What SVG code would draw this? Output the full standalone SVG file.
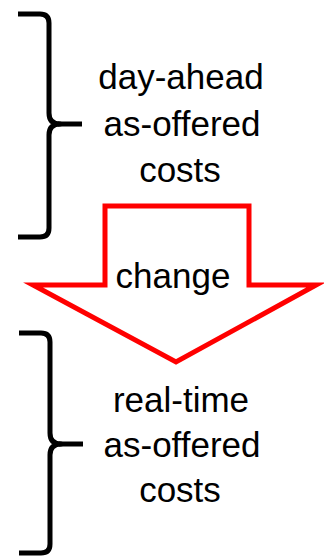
<svg xmlns="http://www.w3.org/2000/svg" width="324" height="557" viewBox="0 0 324 557">
  <style>
    .brace { fill: none; stroke: #000; stroke-width: 5; stroke-linejoin: round; }
    .label { font-family: "Liberation Sans", Arial, sans-serif; font-size: 35px; fill: #000; text-anchor: middle; }
    .arrow { fill: #fff; stroke: #ff0000; stroke-width: 5; stroke-miterlimit: 12; }
  </style>
  <rect width="324" height="557" fill="#fff"/>

  <!-- upper curly brace -->
  <g id="brace-top">
    <path class="brace" d="M18,14 H40 Q49,14 49,23 V113 Q49,124 60,124 Q49,124 49,135 V228 Q49,237 40,237 H18"/>
    <path class="brace" d="M58,124 H82"/>
  </g>

  <g id="label-top">
    <text class="label" x="181" y="89">day-ahead</text>
    <text class="label" x="182" y="136">as-offered</text>
    <text class="label" x="180" y="182">costs</text>
  </g>

  <!-- block arrow pointing down -->
  <g id="arrow-change">
    <polygon class="arrow" points="105,206 249,206 249,285 316,285 176,362 33,285 105,285"/>
    <text class="label" x="173" y="288">change</text>
  </g>

  <!-- lower curly brace -->
  <g id="brace-bottom">
    <path class="brace" d="M19,333 H41 Q50,333 50,342 V433 Q50,444 61,444 Q50,444 50,455 V544 Q50,553 41,553 H19"/>
    <path class="brace" d="M59,444 H83"/>
  </g>

  <g id="label-bottom">
    <text class="label" x="181" y="412">real-time</text>
    <text class="label" x="182" y="457">as-offered</text>
    <text class="label" x="180" y="502">costs</text>
  </g>
</svg>
